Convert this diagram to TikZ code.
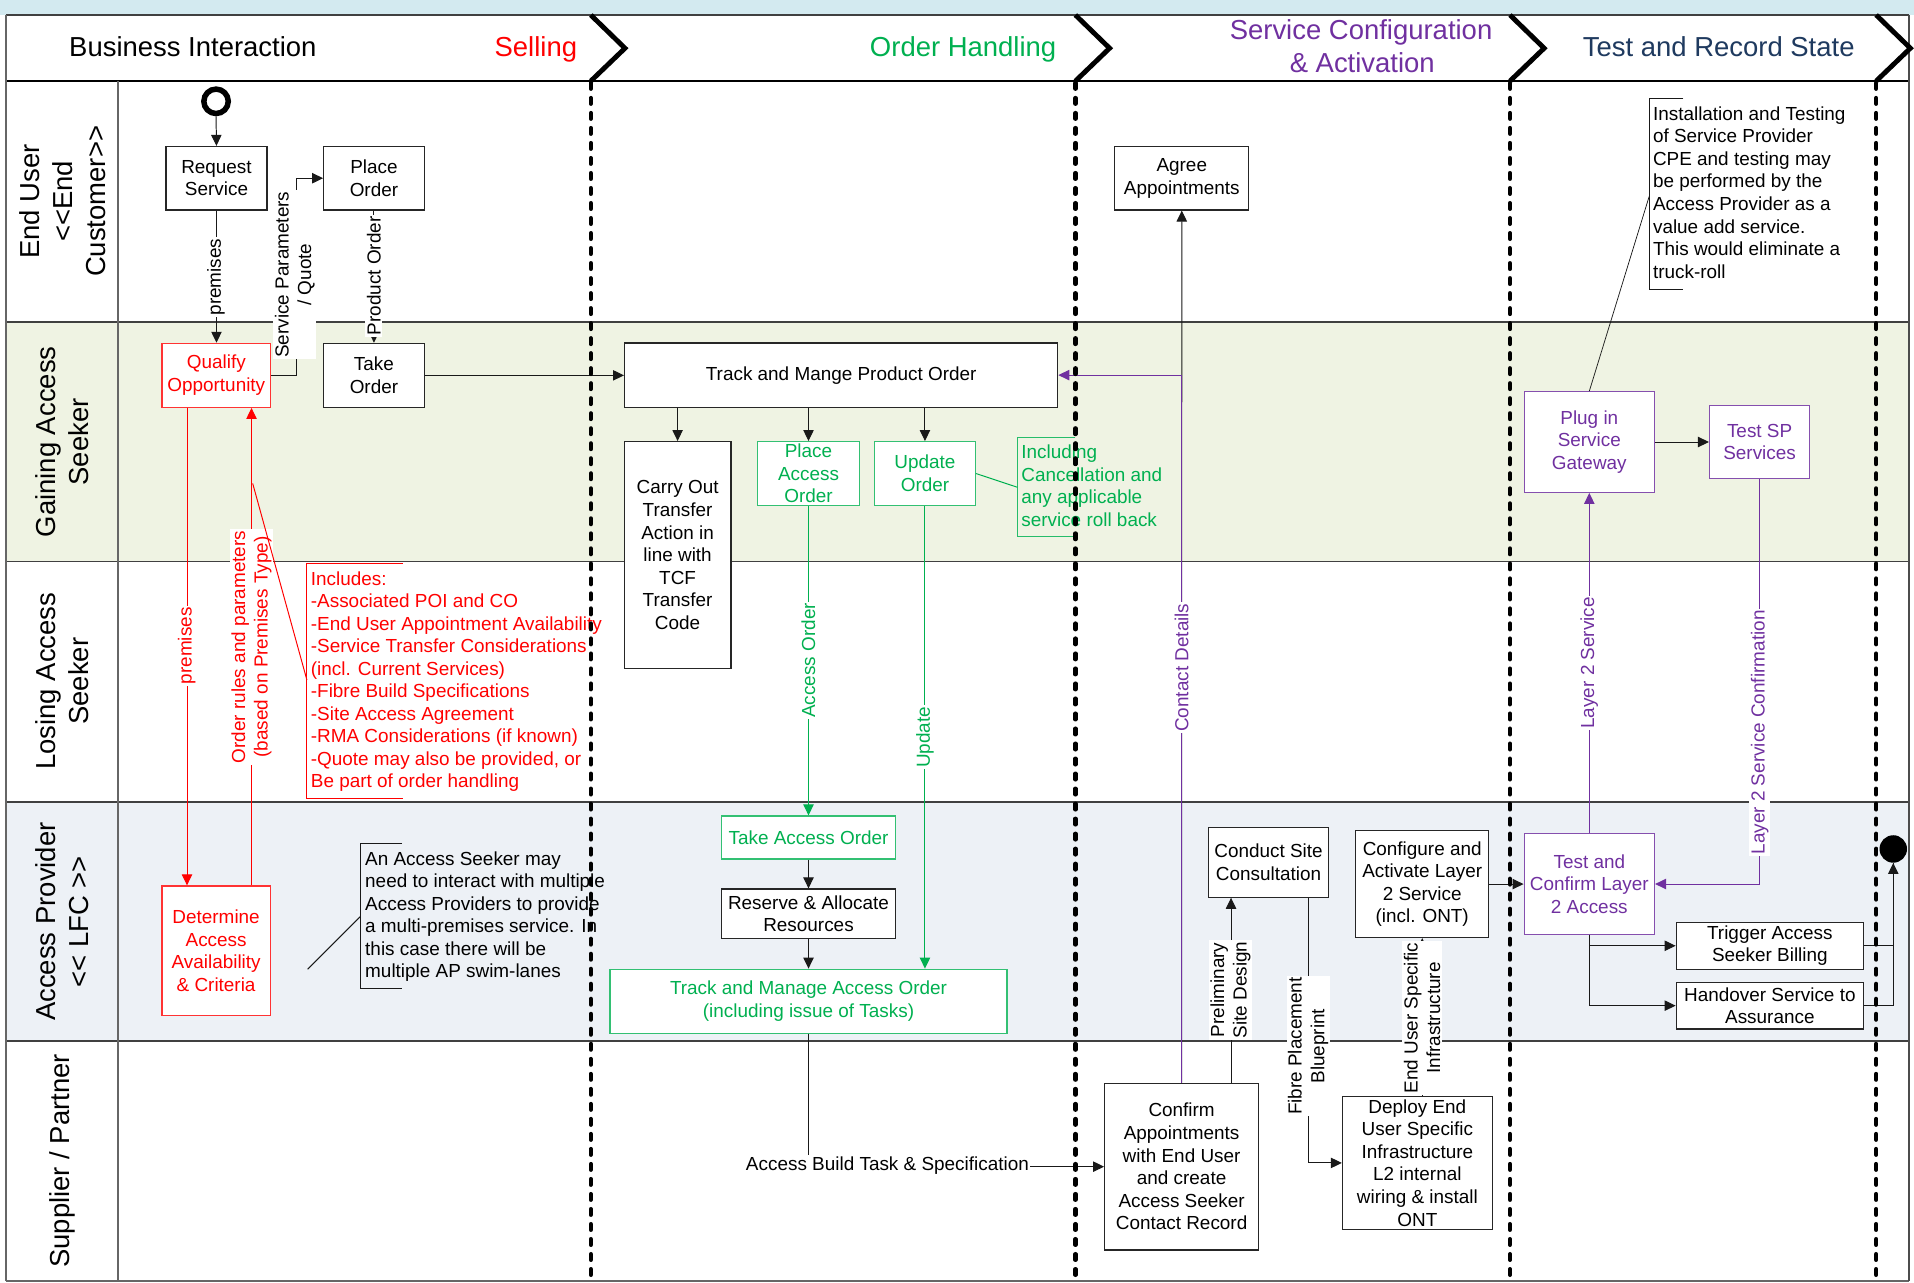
\documentclass[tikz,border=0pt]{standalone}
\usepackage{fontspec}
\setmainfont{Liberation Sans}
\usetikzlibrary{arrows.meta,calc}

\definecolor{ored}{HTML}{FF0000}
\definecolor{ogreen}{HTML}{00B050}
\definecolor{opurple}{HTML}{7030A0}
\definecolor{onavy}{HTML}{1F3A5F}
\definecolor{bandblue}{HTML}{D3EAF0}
\definecolor{gainfill}{HTML}{EFF3E3}
\definecolor{apfill}{HTML}{EDF1F6}
\definecolor{laneline}{HTML}{404040}

\newcommand\bxfont{\fontsize{15.5}{18.5}\selectfont}
\newcommand\notefont{\fontsize{15.5}{18.45}\selectfont}
\newcommand\lanefont{\fontsize{22.5}{27}\selectfont}
\newcommand\hdrfont{\fontsize{22.5}{27}\selectfont}

% a box given by its corners: name, style, x1, y1, x2, y2, text
\newcommand\placebox[7]{%
  \node[#2, minimum width={#5-#3}, minimum height={#6-#4}] (#1)
    at ({(#3+#5)/2},{(#4+#6)/2}) {#7};}

\tikzset{
  box/.style={draw=black!85, fill=white, line width=1pt, inner sep=0pt,
    align=center, font=\bxfont},
  rbox/.style={box, draw=ored!80, text=ored},
  gbox/.style={box, draw=ogreen!80, text=ogreen},
  pbox/.style={box, draw=opurple!85, text=opurple},
  tip/.style={-{Triangle[length=9pt,width=8.5pt]}},
  arr/.style={line width=0.8pt, draw=black!90, tip},
  plainln/.style={line width=0.8pt, draw=black!90},
  rarr/.style={arr, draw=ored},
  garr/.style={arr, draw=ogreen},
  parr/.style={arr, draw=opurple},
  elab/.style={rotate=90, fill=white, inner sep=1.2pt, font=\bxfont, align=center},
  note/.style={anchor=north west, align=left, inner sep=0pt, font=\notefont},
  lanelab/.style={rotate=90, align=center, inner sep=0pt, font=\lanefont},
  hdr/.style={anchor=base, inner sep=0pt, font=\hdrfont},
  lane/.style={draw=laneline, line width=1.5pt},
  phase/.style={line width=3.5pt, line cap=round, dash pattern=on 4.7pt off 7.6pt},
  chev/.style={line width=4pt, line join=miter},
}

\begin{document}
\begin{tikzpicture}[x=1pt,y=-1pt]
\useasboundingbox (0,0) rectangle (1568,1051);

% ---------- backgrounds ----------
\fill[white] (0,0) rectangle (1568,1051);
\fill[bandblue] (0,0) rectangle (1568,12.3);
\fill[gainfill] (5,264) rectangle (1564,460);
\fill[apfill] (5,657) rectangle (1564,853);

% ---------- frame and lanes ----------
\draw[lane] (5,12.3) -- (1564,12.3);
\draw[lane, draw=black] (5,66.4) -- (1564,66.4);
\draw[lane] (5,264) -- (1564,264);
\draw[lane] (5,460) -- (1564,460);
\draw[lane] (5,657) -- (1564,657);
\draw[lane] (5,853) -- (1564,853);
\draw[lane, draw=black!60] (5,1049.5) -- (1564,1049.5);
\draw[lane, draw=black!60] (5,12.3) -- (5,1049.5);
\draw[lane, draw=black!60] (97,66.4) -- (97,1049.5);
\draw[lane, draw=black!70] (1564,12.3) -- (1564,1049.5);

% ---------- lane titles ----------
\node[lanelab] (lEU) at (51,165) {End User\\<\kern0pt<End\\Customer>\kern0pt>};
\node[lanelab] (lGA) at (51,362) {Gaining Access\\Seeker};
\node[lanelab] (lLA) at (51,558) {Losing Access\\Seeker};
\node[lanelab] (lAP) at (51,755) {Access Provider\\<\kern0pt< LFC >\kern0pt>};
\node[lanelab] (lSP) at (51,951) {Supplier / Partner};

% ---------- phase header ----------
\node[hdr] (hBI) at (158,46) {Business Interaction};
\node[hdr, text=ored] (hSel) at (439,46) {Selling};
\node[hdr, text=ogreen] (hOH) at (789,46) {Order Handling};
\node[hdr, text=opurple] (hSC1) at (1115,32) {Service Configuration};
\node[hdr, text=opurple] (hSC2) at (1116,59) {\& Activation};
\node[hdr, text=onavy] (hTR) at (1408,46) {Test and Record State};

\foreach \px in {484,881,1237,1537}{
  \draw[chev] (\px,12.3) -- (\px+28,39.5) -- (\px,66.4);
}

% ---------- process steps ----------
\node[circle, draw=black, line width=4.5pt, minimum size=20pt, inner sep=0pt] (start) at (177,83) {};
\node[circle, fill=black, minimum size=22.5pt, inner sep=0pt] (endc) at (1551,695.5) {};

\placebox{req}{box}{136}{120}{218.7}{172}{Request\\Service}
\placebox{place}{box}{265.2}{120}{347.5}{172}{Place\\Order}
\placebox{qual}{rbox}{132.8}{281.3}{221.6}{333.7}{Qualify\\Opportunity}
\placebox{take}{box}{265.2}{281.3}{347.5}{333.7}{Take\\Order}
\placebox{det}{rbox}{132.8}{725.8}{221.3}{832}{Determine\\Access\\Availability\\\& Criteria}

\placebox{tpo}{box}{511.7}{281}{866.5}{333.6}{Track and Mange Product Order}
\placebox{carry}{box}{511.4}{361.8}{598.8}{547.8}{Carry Out\\Transfer\\Action in\\line with\\TCF\\Transfer\\Code}
\placebox{pao}{gbox}{620.7}{361.8}{704}{414}{Place\\Access\\Order}
\placebox{upd}{gbox}{716.5}{361.8}{799}{414}{Update\\Order}
\placebox{tao}{gbox}{591}{668.5}{733.7}{703.7}{Take Access Order}
\placebox{rar}{box}{591}{728.3}{733.7}{769}{Reserve \& Allocate\\Resources}
\placebox{tmao}{gbox}{499.7}{794}{825}{846.5}{Track and Manage Access Order\\(including issue of Tasks)}

\placebox{agree}{box}{913.3}{120}{1023}{172}{Agree\\Appointments}
\placebox{confirm}{box}{905}{887.5}{1031}{1024}{Confirm\\Appointments\\with End User\\and create\\Access Seeker\\Contact Record}
\placebox{conduct}{box}{989.8}{678}{1088.6}{735}{Conduct Site\\Consultation}
\placebox{config}{box}{1110.6}{680.5}{1219.6}{768}{Configure and\\Activate Layer\\2 Service\\(incl. ONT)}
\placebox{deploy}{box}{1099.8}{898.4}{1222.5}{1007}{Deploy End\\User Specific\\Infrastructure\\L2 internal\\wiring \& install\\ONT}

\placebox{plug}{pbox}{1248.6}{320.9}{1355.4}{403.3}{Plug in\\Service\\Gateway}
\placebox{tsp}{pbox}{1400.5}{332.3}{1482.5}{391.9}{Test SP\\Services}
\placebox{tc}{pbox}{1248.6}{683}{1355.4}{765.4}{Test and\\Confirm Layer\\2 Access}
\placebox{trig}{box}{1373.2}{755.6}{1526.6}{794}{Trigger Access\\Seeker Billing}
\placebox{hand}{box}{1373.2}{804.7}{1526.6}{843}{Handover Service to\\Assurance}

% ---------- flows ----------
\draw[arr] (start.south) -- (req.north);
\draw[arr] (req.south) -- (req.south |- qual.north);
\draw[arr] (qual.east) -- ++(20.5,0) |- (place.west);
\draw[arr] (place.south) -- (take.north);
\draw[arr] (take.east) -- (take.east -| tpo.west);

\coordinate (rp1) at ([xshift=-24pt]qual.south);
\coordinate (rp2) at ([xshift=29pt]det.north);
\draw[rarr] (rp1) -- (rp1 |- det.north);
\draw[rarr] (rp2) -- (rp2 |- qual.south);

\draw[arr] (tpo.south -| carry.north) -- (carry.north);
\draw[arr] (tpo.south -| pao.north) -- (pao.north);
\draw[arr] (tpo.south -| upd.north) -- (upd.north);
\draw[garr] (pao.south) -- (tao.north);
\draw[garr] (upd.south) -- (upd.south |- tmao.north);
\draw[arr] (tao.south) -- (rar.north);
\draw[arr] (rar.south) -- (tmao.north -| rar.south);
\draw[arr] (tmao.south) |- (confirm.west);

\draw[arr] (confirm.north) -- (agree.south);
\draw[parr] (confirm.north) |- (tpo.east);

\coordinate (psd) at ([xshift=-23pt]confirm.north east);
\draw[arr] (psd) -- (psd |- conduct.south);
\coordinate (fpb) at ([xshift=-17pt]conduct.south east);
\draw[arr] (fpb) |- (deploy.west);
\draw[arr] (deploy.north -| config.south) -- (config.south);
\draw[arr] (config.east) -- (config.east -| tc.west);

\draw[parr] (tc.north) -- (tc.north |- plug.south);
\draw[arr] (plug.east) -- (plug.east -| tsp.west);
\draw[parr] (tsp.south) |- (tc.east);
\draw[arr] (tc.south) |- (trig.west);
\draw[arr] (tc.south) |- (hand.west);
\draw[plainln] (trig.east) -| (endc.south);
\draw[arr] (hand.east) -| (endc.south);

% ---------- flow labels ----------
\node[elab] (lbPrem) at (177,227) {premises};
\node[elab] (lbSPQ) at (241.5,225) {Service Parameters\\/ Quote};
\node[elab] (lbPO) at (306.3,226) {Product Order};
\node[elab, text=ored] (lbPrem2) at (153,529) {premises};
\node[elab, text=ored] (lbRules) at (206,530) {Order rules and parameters\\(based on Premises Type)};
\node[elab, text=ogreen] (lbAO) at (662.3,541) {Access Order};
\node[elab, text=ogreen] (lbUpd) at (757.8,604) {Update};
\node[elab, text=opurple] (lbCD) at (968,547) {Contact Details};
\node[elab] (lbPSD) at (1008,811) {Preliminary\\Site Design};
\node[elab] (lbFPB) at (1071.6,857) {Fibre Placement\\Blueprint};
\node[elab] (lbEUS) at (1165,834) {End User Specific\\Infrastructure};
\node[elab, text=opurple] (lbL2S) at (1302,543) {Layer 2 Service};
\node[elab, text=opurple] (lbL2C) at (1441.5,600) {Layer 2 Service Confirmation};
\node[fill=white, inner sep=1.2pt, font=\bxfont] (lbABT) at (727,955) {Access Build Task \& Specification};

% ---------- annotations ----------
\draw[ored, line width=0.8pt] (330,461.5) -- (251.4,461.5) -- (251.4,654) -- (330,654);
\node[note, text=ored] (nInc) at (254.5,468) {Includes:\\-Associated POI and CO\\-End User Appointment Availability\\-Service Transfer Considerations\\(incl. Current Services)\\-Fibre Build Specifications\\-Site Access Agreement\\-RMA Considerations (if known)\\-Quote may also be provided, or\\Be part of order handling};
\coordinate (incA) at (251.4,557);
\coordinate (incB) at (207,396);
\draw[ored, line width=0.8pt] (incA) -- (incB);

\draw[black!90, line width=0.8pt] (329.5,690.8) -- (295,690.8) -- (295,809.6) -- (329.5,809.6);
\node[note] (nAS) at (299,697.2) {An Access Seeker may\\need to interact with multiple\\Access Providers to provide\\a multi-premises service. In\\this case there will be\\multiple AP swim-lanes};
\coordinate (asA) at (295,751);
\coordinate (asB) at (252,794);
\draw[black!90, line width=0.8pt] (asA) -- (asB);

\draw[ogreen!85, line width=0.8pt] (881,358) -- (833.5,358) -- (833.5,439.6) -- (881,439.6);
\node[note, text=ogreen] (nCan) at (836.5,364.2) {Including\\Cancellation and\\any applicable\\service roll back};
\coordinate (canA) at (833.5,399.2);
\draw[ogreen, line width=0.8pt] (upd.east) -- (canA);

\draw[black!90, line width=0.8pt] (1379,81) -- (1351,81) -- (1351,236.8) -- (1379,236.8);
\node[note] (nInst) at (1354,87.2) {Installation and Testing\\of Service Provider\\CPE and testing may\\be performed by the\\Access Provider as a\\value add service.\\This would eliminate a\\truck-roll};
\coordinate (instA) at (1351,161);
\draw[black!90, line width=0.6pt] (instA) -- (plug.north);

% ---------- phase boundaries ----------
\foreach \px in {484,881,1237,1537}{
  \draw[phase] (\px,68) -- (\px,1048);
}
\end{tikzpicture}
\end{document}
